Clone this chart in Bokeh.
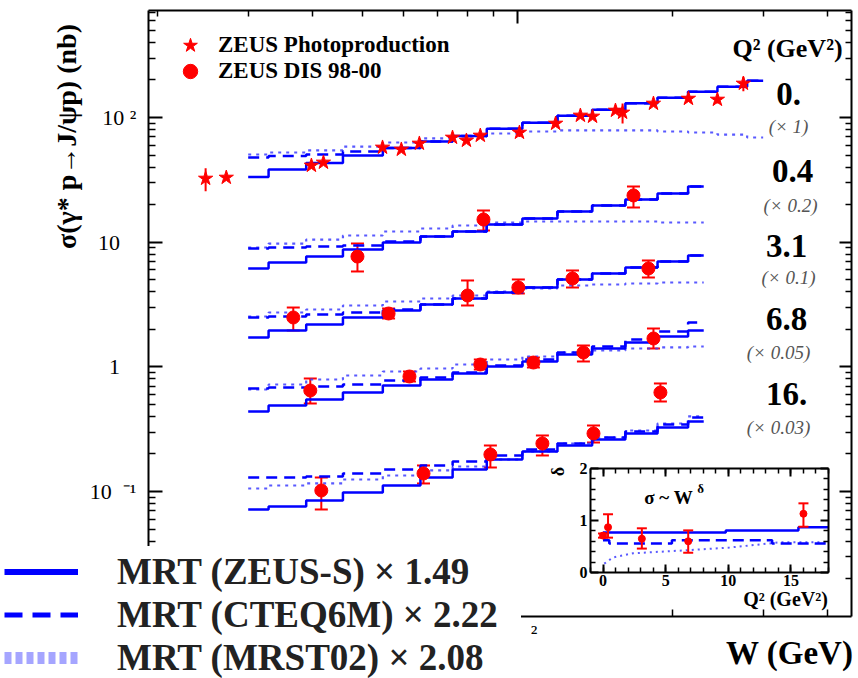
from math import pi
from bokeh.plotting import figure
from bokeh.models import (Range1d, LinearScale, LinearAxis, LogAxis, FixedTicker,
                          Label, Legend, LegendItem, Whisker, ColumnDataSource,
                          TeeHead, CustomJSTickFormatter)
from bokeh.embed import file_html
from bokeh.resources import INLINE

# ------------------------------------------------------------------ data
# ZEUS photoproduction (Q2 = 0, x 1)
W_PHP = [24.8, 27.2, 39.8, 42.0, 54.7, 59.5, 64.5, 74.8, 79.6, 84.7, 100.9, 118.6,
         132.5, 139.9, 155.0, 160.0, 183.7, 214.8, 244.5, 274.6]
SIG_PHP = [32.4, 33.0, 41.2, 43.6, 57.5, 55.4, 61.9, 69.1, 65.4, 71.7, 75.8, 89.5,
           103.8, 101.9, 113.8, 109.7, 129.5, 141.9, 139.4, 187.4]
ERR_PHP = [6.8, 1.5, 2.0, 2.0, 2.5, 2.5, 2.5, 3.0, 3.0, 3.0, 6.0, 5.0, 5.0, 5.0, 6.0,
           20.0, 7.0, 8.0, 10.0, 25.0]

# ZEUS DIS 98-00 (values as plotted, i.e. already scaled)
W_Q04 = [48.9, 85.9, 168.0]
SIG_Q04 = [7.67, 15.2, 23.7]
LO_Q04 = [5.82, 12.41, 18.97]
HI_Q04 = [9.75, 17.95, 28.0]

W_Q31 = [36.7, 56.2, 80.0, 100.4, 127.9, 179.6]
SIG_Q31 = [2.488, 2.678, 3.734, 4.329, 5.112, 6.15]
LO_Q31 = [1.957, 2.442, 3.105, 3.875, 4.329, 5.208]
HI_Q31 = [2.991, 2.937, 4.928, 5.020, 5.927, 7.13]

W_Q68 = [39.6, 61.7, 84.7, 107.4, 134.3, 183.7]
SIG_Q68 = [0.6459, 0.8367, 1.044, 1.083, 1.303, 1.688]
LO_Q68 = [0.5081, 0.7627, 0.952, 0.988, 1.104, 1.403]
HI_Q68 = [0.8063, 0.9176, 1.145, 1.188, 1.483, 2.030]

W_Q16 = [41.6, 65.7, 88.6, 111.8, 140.5, 189.5]
SIG_Q16 = [0.1019, 0.1395, 0.1981, 0.2427, 0.2920, 0.6226]
LO_Q16 = [0.07173, 0.1160, 0.1558, 0.1945, 0.2472, 0.5272]
HI_Q16 = [0.1295, 0.1617, 0.2339, 0.2814, 0.3384, 0.7355]

# MRT model curves
W_MODEL_PHP = [30, 36, 42, 50, 60, 70, 80, 95, 110, 130, 150, 175, 200, 230, 260, 300]
W_MODEL_DIS = [30, 36, 42, 50, 60, 70, 80, 95, 110, 130, 150, 175, 200, 230]

ZEUSS_Q0 = [33.3, 38.3, 43.2, 49.5, 56.9, 64.1, 71.1, 81.2, 90.9, 103.4, 115.5, 130.2, 144.1, 160.8, 176.6, 197.3]
CTEQ_Q0 = [47.8, 49.1, 50.5, 53.4, 56.9, 64.1, 71.1, 81.2, 90.9, 103.4, 115.5, 130.2, 144.1, 160.8, 176.6, 197.3]
MRST_Q0 = [50.5, 52.4, 54.4, 58.5, 63.0, 67.9, 70.4, 74.4, 77.2, 78.7, 78.7, 78.7, 77.2, 75.8, 73.0, 69.1]

ZEUSS_Q04 = [6.15, 6.87, 7.67, 8.73, 9.94, 11.1, 12.18, 13.86, 15.48, 17.62, 19.69, 22.0, 24.57, 27.96]
CTEQ_Q04 = [8.90, 9.06, 9.23, 9.40, 10.12, 11.1, 12.18, 13.86, 15.48, 17.62, 19.69, 22.0, 24.57, 27.96]
MRST_Q04 = [9.06, 9.75, 10.50, 11.31, 12.18, 12.87, 13.60, 14.38, 14.65, 14.65, 14.65, 14.65, 14.38, 14.38]

ZEUSS_Q31 = [1.719, 1.957, 2.186, 2.488, 2.830, 3.163, 3.533, 3.947, 4.329, 5.020, 5.607, 6.264, 6.998, 7.818]
CTEQ_Q31 = [2.488, 2.534, 2.629, 2.729, 2.884, 3.163, 3.533, 3.947, 4.329, 5.020, 5.607, 6.264, 6.998, 7.818]
MRST_Q31 = [2.534, 2.729, 2.884, 3.105, 3.344, 3.533, 3.734, 4.020, 4.250, 4.492, 4.576, 4.661, 4.748, 4.748]

ZEUSS_Q68 = [0.4384, 0.4896, 0.547, 0.6226, 0.7086, 0.7915, 0.8843, 1.006, 1.104, 1.256, 1.403, 1.567, 1.751, 1.957]
CTEQ_Q68 = [0.6705, 0.6830, 0.6957, 0.7219, 0.7774, 0.8214, 0.9007, 1.025, 1.145, 1.303, 1.456, 1.657, 1.921, 2.269]
MRST_Q68 = [0.6581, 0.7219, 0.7915, 0.8522, 0.9176, 0.9698, 1.044, 1.145, 1.210, 1.303, 1.352, 1.403, 1.43, 1.456]

ZEUSS_Q16 = [0.07173, 0.07583, 0.08471, 0.0982, 0.1117, 0.1295, 0.1502, 0.1806, 0.2094, 0.2339, 0.2614, 0.2920, 0.3262, 0.3644]
CTEQ_Q16 = [0.1295, 0.1295, 0.1319, 0.1395, 0.1502, 0.1617, 0.1741, 0.1945, 0.2173, 0.2427, 0.2712, 0.3030, 0.3447, 0.3924]
MRST_Q16 = [0.1057, 0.1117, 0.1160, 0.1248, 0.1344, 0.1475, 0.1587, 0.1806, 0.2094, 0.2427, 0.2712, 0.3086, 0.3512, 0.3998]

Q2_LABELS = ["0.", "0.4", "3.1", "6.8", "16."]
SCALE_LABELS = ["(× 1)", "(× 0.2)", "(× 0.1)", "(× 0.05)", "(× 0.03)"]
LEGEND_MODELS = ["MRT (ZEUS-S) × 1.49", "MRT (CTEQ6M) × 2.22", "MRT (MRST02) × 2.08"]

# inset: sigma ~ W^delta
Q2_INSET = [0.0, 0.4, 3.1, 6.8, 16.0]
DELTA = [0.71, 0.87, 0.65, 0.60, 1.13]
DELTA_LO = [0.67, 0.67, 0.46, 0.38, 0.88]
DELTA_HI = [0.75, 1.12, 0.85, 0.81, 1.33]
INSET_SOLID_Q2 = [0.0, 9.8, 15.6, 18.0]
INSET_SOLID = [0.77, 0.81, 0.87, 0.87]
INSET_DASHED_Q2 = [0.0, 0.5, 5.5, 13.5, 18.0]
INSET_DASHED = [0.62, 0.56, 0.62, 0.56, 0.56]
INSET_DOTTED_Q2 = [0.1, 0.8, 2.4, 6.1, 10.1, 14.1, 18.0]
INSET_DOTTED = [0.17, 0.29, 0.37, 0.42, 0.48, 0.58, 0.58]

# ------------------------------------------------------------------ style / layout
FONT = "Liberation Serif"
BLUE = "#0000ff"
DOT_BLUE = "#3c3cff"
RED = "#ff0000"

# axis limits of the main panel
W_MIN, W_MAX = 19.2, 445.0
S_MIN, S_MAX = 0.01, 720.0

# the plotting frame fills the whole canvas; the main panel box is drawn by
# four axes placed at the panel limits.
p = figure(width=858, height=678, x_axis_type="log", y_axis_type="log",
           x_range=Range1d(9.911, 459.5), y_range=Range1d(0.003162, 868.1),
           x_axis_location=None, y_axis_location=None,
           output_backend="svg", toolbar_location=None,
           min_border_left=0, min_border_right=0, min_border_top=0, min_border_bottom=0)
p.background_fill_color = "white"
p.border_fill_color = "white"
p.outline_line_color = None
p.xgrid.visible = False
p.ygrid.visible = False

p.extra_x_ranges = {"ix": Range1d(-48.10, 20.395), "px": Range1d(0, 858)}
p.extra_y_ranges = {"iy": Range1d(-2.0385, 11.0), "py": Range1d(678, 0)}
p.extra_x_scales = {"ix": LinearScale(), "px": LinearScale()}
p.extra_y_scales = {"iy": LinearScale(), "py": LinearScale()}

Y_MINOR = [m * 10.0 ** e for e in range(-2, 3) for m in range(2, 10) if m * 10.0 ** e < S_MAX]
X_MINOR = [20, 30, 40, 50, 60, 70, 80, 90, 200, 300, 400]
blank = CustomJSTickFormatter(code="return ''")


def style_axis(ax, major=14, minor=7, size="22px"):
    ax.major_tick_in = major
    ax.major_tick_out = 0
    ax.minor_tick_in = minor
    ax.minor_tick_out = 0
    ax.axis_line_width = 2
    ax.major_tick_line_width = 2
    ax.minor_tick_line_width = 1.5
    ax.major_label_text_font = FONT
    ax.major_label_text_font_size = size
    ax.major_label_text_color = "black"


yax = LogAxis(fixed_location=W_MIN, bounds=(S_MIN, S_MAX),
              ticker=FixedTicker(ticks=[0.1, 1, 10, 100], minor_ticks=Y_MINOR),
              major_label_overrides={0.1: "10\u00a0\u00a0⁻¹", 1: "1\u00a0\u00a0\u00a0",
                                     10: "10\u00a0\u00a0\u00a0", 100: "10\u00a0²"},
              major_label_standoff=12)
style_axis(yax)
p.add_layout(yax, "left")

xax = LogAxis(fixed_location=S_MIN, bounds=(W_MIN, W_MAX),
              ticker=FixedTicker(ticks=[100], minor_ticks=X_MINOR),
              major_label_overrides={100: "10\u00a0\u00a0²"}, major_label_standoff=4)
style_axis(xax)
p.add_layout(xax, "below")

rax = LogAxis(fixed_location=W_MAX, bounds=(S_MIN, S_MAX),
              ticker=FixedTicker(ticks=[0.1, 1, 10, 100], minor_ticks=Y_MINOR),
              formatter=blank, major_label_standoff=0)
style_axis(rax, 12, 6)
p.add_layout(rax, "right")
tax = LogAxis(fixed_location=S_MAX, bounds=(W_MIN, W_MAX),
              ticker=FixedTicker(ticks=[100], minor_ticks=X_MINOR),
              formatter=blank, major_label_standoff=0)
style_axis(tax, 13, 6)
p.add_layout(tax, "above")

# ------------------------------------------------------------------ model curves
groups = [
    (W_MODEL_PHP, ZEUSS_Q0, CTEQ_Q0, MRST_Q0),
    (W_MODEL_DIS, ZEUSS_Q04, CTEQ_Q04, MRST_Q04),
    (W_MODEL_DIS, ZEUSS_Q31, CTEQ_Q31, MRST_Q31),
    (W_MODEL_DIS, ZEUSS_Q68, CTEQ_Q68, MRST_Q68),
    (W_MODEL_DIS, ZEUSS_Q16, CTEQ_Q16, MRST_Q16),
]
for w, s1, s2, s3 in groups:
    p.step(w, s3, mode="center", line_color=DOT_BLUE, line_width=2.2, line_dash="3 5", line_alpha=0.85)
    p.step(w, s2, mode="center", line_color=BLUE, line_width=2.5, line_dash="11 7")
    p.step(w, s1, mode="center", line_color=BLUE, line_width=2.5)

# ------------------------------------------------------------------ data points
lo_php = [s - e for s, e in zip(SIG_PHP, ERR_PHP)]
hi_php = [s + e for s, e in zip(SIG_PHP, ERR_PHP)]
p.segment(x0=W_PHP, y0=lo_php, x1=W_PHP, y1=hi_php, line_color=RED, line_width=2)
r_star = p.scatter(W_PHP, SIG_PHP, marker="star", size=15, color=RED)

dis_sets = [(W_Q04, SIG_Q04, LO_Q04, HI_Q04), (W_Q31, SIG_Q31, LO_Q31, HI_Q31),
            (W_Q68, SIG_Q68, LO_Q68, HI_Q68), (W_Q16, SIG_Q16, LO_Q16, HI_Q16)]
r_dis = []
for w, s, lo, hi in dis_sets:
    src = ColumnDataSource(dict(w=w, s=s, lo=lo, hi=hi))
    p.add_layout(Whisker(source=src, base="w", lower="lo", upper="hi", line_color=RED, line_width=2,
                         upper_head=TeeHead(size=13, line_color=RED, line_width=2),
                         lower_head=TeeHead(size=13, line_color=RED, line_width=2)))
    r_dis.append(p.scatter("w", "s", source=src, marker="circle", size=13, color=RED))

# ------------------------------------------------------------------ inset
IX = dict(x_range_name="ix", y_range_name="iy")
p.quad(left=[-1], right=[18], bottom=[0], top=[2], fill_color="white", line_color=None, **IX)
p.line(INSET_DOTTED_Q2, INSET_DOTTED, line_color=DOT_BLUE, line_width=2, line_dash="2 4", line_alpha=0.85, **IX)
p.step(INSET_DASHED_Q2, INSET_DASHED, mode="after", line_color=BLUE, line_width=2.5, line_dash="11 6", **IX)
p.step(INSET_SOLID_Q2, INSET_SOLID, mode="after", line_color=BLUE, line_width=2.5, **IX)
isrc = ColumnDataSource(dict(q=Q2_INSET, d=DELTA, lo=DELTA_LO, hi=DELTA_HI))
p.add_layout(Whisker(source=isrc, base="q", lower="lo", upper="hi", line_color=RED, line_width=2,
                     upper_head=TeeHead(size=10, line_color=RED, line_width=2),
                     lower_head=TeeHead(size=10, line_color=RED, line_width=2),
                     level="annotation", **IX))
p.scatter("q", "d", source=isrc, marker="circle", size=7, color=RED, **IX)

q_ticks = FixedTicker(ticks=[0, 5, 10, 15], minor_ticks=list(range(-1, 19)))
d_ticks = FixedTicker(ticks=[0, 1, 2], minor_ticks=[0.2, 0.4, 0.6, 0.8, 1.2, 1.4, 1.6, 1.8])
for side, loc, bnds, tk, lab in [("below", 0, (-1, 18), q_ticks, True), ("above", 2, (-1, 18), q_ticks, False),
                                 ("left", -1, (0, 2), d_ticks, True), ("right", 18, (0, 2), d_ticks, False)]:
    ax = LinearAxis(fixed_location=loc, bounds=bnds, ticker=tk, **IX)
    style_axis(ax, 8, 5, "16px")
    ax.major_label_text_font_style = "bold"
    ax.major_label_standoff = 3
    if not lab:
        ax.formatter = blank
        ax.major_label_standoff = 0
    p.add_layout(ax, side)

# ------------------------------------------------------------------ texts
def txt(x, y, s, size, style="bold", color="black", align="center", angle=0.0):
    p.add_layout(Label(x=x, y=y, x_range_name="px", y_range_name="py", text=s,
                       text_font=FONT, text_font_size=f"{size}px", text_font_style=style,
                       text_color=color, text_align=align, text_baseline="middle", angle=angle))


txt(66, 136, "σ(γ* p→J/ψp) (nb)", 28, angle=pi / 2)
txt(853, 652, "W (GeV)", 33, align="right")
txt(787, 48, "Q² (GeV²)", 26)
q2_pos = [(788, 93), (792, 170), (786, 245), (786, 318), (786, 393)]
sc_pos = [(788, 126), (790, 205), (788, 277), (778, 352), (778, 427)]
for lab, (x, y) in zip(Q2_LABELS, q2_pos):
    txt(x, y, lab, 33)
for lab, (x, y) in zip(SCALE_LABELS, sc_pos):
    txt(x, y, lab, 19, style="italic", color="#555555")
# inset texts
txt(668, 497, "σ ~ W", 19)
txt(700, 488, "δ", 13)
txt(557, 471, "δ", 18, angle=pi / 2)
txt(785, 598, "Q² (GeV²)", 20)

# ------------------------------------------------------------------ legends
common = dict(glyph_width=36, glyph_height=36, label_height=26, padding=4, label_standoff=10,
              margin=0, border_line_alpha=0, background_fill_alpha=0,
              label_text_font=FONT, label_text_font_size="23px", label_text_font_style="bold",
              label_text_color="black")
p.add_layout(Legend(items=[LegendItem(label="ZEUS Photoproduction", renderers=[r_star])],
                    location=(168, 611), **common))
p.add_layout(Legend(items=[LegendItem(label="ZEUS DIS 98-00", renderers=[r_dis[0]])],
                    location=(168, 585), **common))

# legend-only copies of the model curves (not drawn, only give the legend its line samples)
l1 = p.step(W_MODEL_DIS, ZEUSS_Q04, mode="center", line_color=BLUE, line_width=6, visible=False)
l2 = p.step(W_MODEL_DIS, CTEQ_Q04, mode="center", line_color=BLUE, line_width=5,
            line_dash="18 10", visible=False)
l3 = p.step(W_MODEL_DIS, MRST_Q04, mode="center", line_color="#8f8fff", line_width=12,
            line_dash="7 4", line_alpha=0.8, visible=False)
leg_models = Legend(items=[LegendItem(label=LEGEND_MODELS[0], renderers=[l1]),
                           LegendItem(label=LEGEND_MODELS[1], renderers=[l2]),
                           LegendItem(label=LEGEND_MODELS[2], renderers=[l3])],
                    location=(0, -5), glyph_width=74, glyph_height=41, label_height=41,
                    label_width=400, label_text_line_height=1.0,
                    spacing=0, padding=4, label_standoff=39, margin=0,
                    border_line_alpha=0, background_fill_color="white", background_fill_alpha=1,
                    label_text_font=FONT, label_text_font_size="37px", label_text_font_style="bold",
                    label_text_color="#222222")
p.add_layout(leg_models)

open("out.html", "w").write(file_html(p, INLINE))
